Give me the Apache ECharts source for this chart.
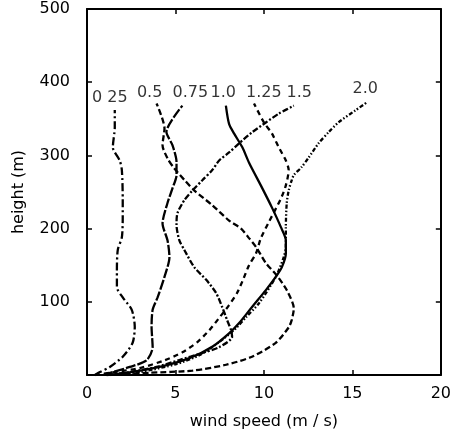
<!DOCTYPE html>
<html>
<head>
<meta charset="utf-8">
<script src="https://cdn.jsdelivr.net/npm/echarts@6/dist/echarts.min.js"></script>
<style>
  html, body { margin: 0; padding: 0; background: #fff; }
  #chart { width: 454px; height: 435px; }
</style>
</head>
<body>
<div id="chart"></div>
<script>
// Wind speed profiles (m/s) against height (m), listed from the ground upward.
const h025 = [0, 4, 11, 25, 44, 66, 89, 106, 120, 143, 171, 188, 216, 239, 280, 293, 311, 338, 362];
const v025 = [0.45, 0.73, 1.29, 2.02, 2.58, 2.70, 2.53, 2.02, 1.69, 1.69, 1.74, 1.97, 2.02, 2.02, 1.97, 1.85, 1.46, 1.57, 1.57];

const h050 = [0, 3, 6, 14, 25, 44, 65, 75, 91, 116, 136, 153, 175, 187, 200, 211, 232, 252, 265, 282, 296, 314, 337, 371];
const v050 = [1.1, 3.54, 5.96, 7.87, 9.33, 10.67, 11.4, 11.57, 11.69, 11.29, 10.73, 10.11, 9.55, 9.16, 8.71, 8.03, 7.08, 6.07, 5.56, 4.94, 4.55, 4.27, 4.38, 3.93];

const h075 = [0, 4, 11, 20, 38, 66, 89, 106, 134, 161, 184, 207, 235, 255, 273, 291, 314, 332, 368];
const v075 = [0.9, 1.46, 2.42, 3.37, 3.71, 3.65, 3.71, 3.99, 4.38, 4.66, 4.55, 4.27, 4.55, 4.83, 5.06, 5.06, 4.83, 4.49, 5.39];

const h100 = [0, 3, 11, 23, 39, 57, 71, 93, 116, 134, 147, 166, 184, 202, 229, 256, 290, 311, 330, 343, 368];
const v100 = [1.1, 2.23, 4.1, 5.79, 7.1, 8.03, 8.6, 9.33, 10.11, 10.67, 11.01, 11.24, 11.24, 10.96, 10.45, 9.89, 9.16, 8.78, 8.31, 8.03, 7.85];

const h125 = [0, 3, 9.5, 20, 31, 45, 61, 78, 95.5, 112, 130, 150, 166, 187, 209, 241, 259, 280, 293, 311, 330, 345, 371];
const v125 = [0.45, 1.29, 2.98, 4.38, 5.39, 6.24, 6.91, 7.47, 8.03, 8.48, 8.82, 9.16, 9.55, 9.83, 10.28, 10.96, 11.24, 11.4, 11.24, 10.84, 10.45, 10.0, 9.44];

const h150 = [0, 4, 11, 20.5, 30, 38, 52, 61, 75, 93, 112, 130, 147, 170.5, 184, 205, 221, 239, 252, 266, 280, 293, 304, 316.5, 331.5, 345, 357, 368];
const v150 = [1.12, 2.42, 3.93, 5.22, 6.52, 7.47, 8.2, 8.15, 7.92, 7.64, 7.3, 6.74, 6.07, 5.51, 5.22, 5.06, 5.11, 5.51, 5.96, 6.52, 7.08, 7.47, 8.03, 8.6, 9.33, 10.11, 10.84, 11.69];

const h200 = [0, 4, 15, 27, 45, 64, 79, 98, 134, 161, 175, 202, 235, 252, 266, 273, 284, 297, 316.5, 331.5, 345, 361.5, 372];
const v200 = [1.29, 2.98, 5.06, 6.35, 7.47, 8.43, 8.99, 9.72, 10.67, 11.12, 11.24, 11.24, 11.29, 11.4, 11.57, 11.69, 12.13, 12.53, 13.09, 13.65, 14.21, 15.17, 15.79];

// Curve captions and where they sit (wind speed, height).
const curveNames = ['0 25', '0.5', '0.75', '1.0', '1.25', '1.5', '2.0'];
const captionSpeed = [1.29, 3.54, 5.84, 7.7, 10.0, 12.0, 15.73];
const captionHeight = [379, 385, 385, 385, 385, 385, 391];

const xTicks = { min: 0, max: 20, interval: 5 };
const yTicks = { min: 0, max: 500, interval: 100 };

const FONT = 'DejaVu Sans';
const INK = '#000';

const profiles = [
  { v: v025, h: h025, dash: [8, 3, 2, 3] },
  { v: v050, h: h050, dash: [6, 3] },
  { v: v075, h: h075, dash: [10, 2] },
  { v: v100, h: h100, dash: 'solid' },
  { v: v125, h: h125, dash: [5, 4] },
  { v: v150, h: h150, dash: [6, 2, 2, 2] },
  { v: v200, h: h200, dash: [4, 2, 1.5, 2, 1.5, 2] }
];

const lineSeries = profiles.map((p, i) => ({
  type: 'line',
  name: curveNames[i],
  data: p.v.map((s, k) => [s, p.h[k]]),
  showSymbol: false,
  smooth: 0.25,
  animation: false,
  silent: true,
  lineStyle: { color: INK, width: 2.3, type: p.dash }
}));

const captionSeries = {
  type: 'scatter',
  symbolSize: 0,
  silent: true,
  animation: false,
  data: curveNames.map((n, i) => ({ name: n, value: [captionSpeed[i], captionHeight[i]] })),
  label: {
    show: true,
    position: 'inside',
    formatter: '{b}',
    color: INK,
    fontFamily: FONT,
    fontSize: 16
  }
};

const baseAxisLine = { show: true, onZero: false, lineStyle: { color: INK, width: 2 } };
const inTick = { show: true, inside: true, length: 5, lineStyle: { color: INK, width: 1.5 } };

const chart = echarts.init(document.getElementById('chart'), null, { renderer: 'canvas' });
chart.setOption({
  backgroundColor: '#fff',
  grid: { left: 87, right: 11, top: 9, bottom: 60, containLabel: false },
  xAxis: [
    {
      type: 'value', position: 'bottom', ...xTicks,
      name: 'wind speed (m / s)', nameLocation: 'middle', nameGap: 39,
      nameTextStyle: { color: INK, fontFamily: FONT, fontSize: 16 },
      axisLine: baseAxisLine, axisTick: inTick, splitLine: { show: false },
      axisLabel: { color: INK, fontFamily: FONT, fontSize: 16, margin: 11 }
    },
    {
      type: 'value', position: 'top', ...xTicks,
      axisLine: baseAxisLine, axisTick: inTick, splitLine: { show: false },
      axisLabel: { show: false }
    }
  ],
  yAxis: [
    {
      type: 'value', position: 'left', ...yTicks,
      name: 'height (m)', nameLocation: 'middle', nameGap: 60,
      nameTextStyle: { color: INK, fontFamily: FONT, fontSize: 16 },
      axisLine: baseAxisLine, axisTick: inTick, splitLine: { show: false },
      axisLabel: { color: INK, fontFamily: FONT, fontSize: 16, margin: 17, showMinLabel: false }
    },
    {
      type: 'value', position: 'right', ...yTicks,
      axisLine: baseAxisLine, axisTick: inTick, splitLine: { show: false },
      axisLabel: { show: false }
    }
  ],
  series: [...lineSeries, captionSeries]
});
</script>
</body>
</html>
